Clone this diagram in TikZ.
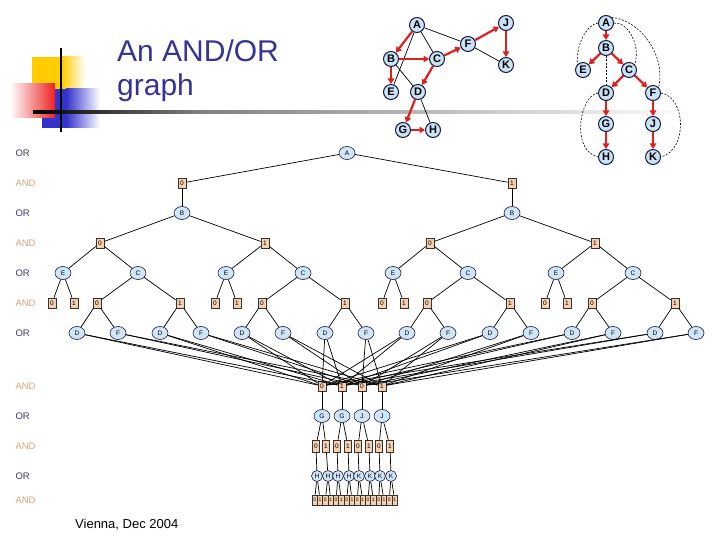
\documentclass[tikz,border=0pt]{standalone}
\usepackage{fontspec}
\setmainfont{Liberation Sans}
\usetikzlibrary{shapes.geometric,arrows.meta}
\definecolor{titleblue}{HTML}{333399}
\definecolor{orfill}{HTML}{CFE6F7}
\definecolor{andfill}{HTML}{F7CFAE}
\definecolor{orlab}{HTML}{3A3A6A}
\definecolor{andlab}{HTML}{D9A27C}
\definecolor{redarr}{HTML}{E02020}
\definecolor{gnode}{HTML}{C8E2F6}
\definecolor{navy}{HTML}{1A1A40}
\definecolor{decoyellow}{HTML}{FFCC00}
\definecolor{decored}{HTML}{EE2222}
\definecolor{decoblue}{HTML}{3333CC}
\begin{document}
\begin{tikzpicture}[x=1pt,y=-1pt,
 orn/.style={ellipse, draw=navy, line width=0.6pt, fill=orfill, minimum width=16pt, minimum height=13pt, inner sep=0pt, font=\fontsize{6.5}{6.5}\selectfont},
 andb/.style={rectangle, draw=black!80, line width=0.6pt, fill=andfill, minimum width=8pt, minimum height=10pt, inner sep=0pt, font=\fontsize{6.5}{6.5}\selectfont},
 andn/.style={andb, minimum width=6.5pt, minimum height=12pt},
 andt/.style={andb, minimum width=5.3pt, minimum height=10pt, font=\fontsize{5}{5}\selectfont},
 orsm/.style={orn, minimum width=11pt, minimum height=11pt},
 gn/.style={circle, draw=navy, line width=1pt, fill=gnode, minimum size=15pt, inner sep=0pt, font=\bfseries\fontsize{11}{11}\selectfont},
 redarrow/.style={draw=redarr, line width=2.2pt, -{Triangle[length=5.5pt,width=6.5pt]}},
 tedge/.style={draw=black, line width=0.7pt},
 dashedge/.style={draw=black, line width=0.6pt, dash pattern=on 2pt off 1.5pt},
 rowlab/.style={anchor=west, font=\fontsize{9.5}{9.5}\selectfont}
]
\useasboundingbox (0,0) rectangle (720,540);

% decoration
\fill[decoyellow] (32,57) rectangle (62,90);
\shade[left color=decoyellow, right color=white] (62,57) rectangle (85,90);
\fill[decoblue] (42,89) rectangle (66,128);
\shade[left color=decoblue, right color=white] (66,89) rectangle (100,128);
\shade[left color=white, right color=decored] (10,84) rectangle (55,118);
\shade[left color=black, right color=black!50] (33,111) rectangle (200,114);
\shade[left color=black!50, right color=white] (200,111) rectangle (690,114);
\draw[line width=2.2pt] (61,48) -- (61,132);

\node[anchor=base west, text=titleblue, font=\fontsize{30}{30}\selectfont, inner sep=0pt] (t1) at (117,62) {An AND/OR};
\node[anchor=base west, text=titleblue, font=\fontsize{30}{30}\selectfont, inner sep=0pt] (t2) at (117,96) {graph};

% first graph
\node[gn] (tA) at (417,25) {A};
\node[gn] (tB) at (391,59) {B};
\node[gn] (tC) at (437,59) {C};
\node[gn] (tE) at (391,92) {E};
\node[gn] (tD) at (418,92) {D};
\node[gn] (tF) at (468,44) {F};
\node[gn] (tJ) at (506,23) {J};
\node[gn] (tK) at (506,65) {K};
\node[gn] (tG) at (403,130) {G};
\node[gn] (tH) at (433,130) {H};
\draw[tedge] (tA) -- (tC);
\draw[tedge] (tA) -- (tF);
\draw[tedge] (tA) -- (tE);
\draw[tedge] (tB) -- (tD);
\draw[tedge] (tD) -- (tH);
\draw[tedge] (tF) -- (tK);
\draw[redarrow] (tA) -- (tB);
\draw[redarrow] (tB) -- (tC);
\draw[redarrow] (tC) -- (tF);
\draw[redarrow] (tF) -- (tJ);
\draw[redarrow] (tJ) -- (tK);
\draw[redarrow] (tB) -- (tE);
\draw[redarrow] (tC) -- (tD);
\draw[redarrow] (tD) -- (tG);
\draw[redarrow] (tG) -- (tH);

% pseudo tree
\node[gn] (pA) at (606,23) {A};
\node[gn] (pB) at (606,48) {B};
\node[gn] (pE) at (583,70) {E};
\node[gn] (pC) at (629,70) {C};
\node[gn] (pD) at (606,93) {D};
\node[gn] (pF) at (653,93) {F};
\node[gn] (pG) at (606,124) {G};
\node[gn] (pJ) at (653,124) {J};
\node[gn] (pH) at (606,157) {H};
\node[gn] (pK) at (653,157) {K};
\draw[dashedge] (pA.west) .. controls (586,25) and (576,45) .. (pE.north west);
\draw[dashedge] (pA.east) .. controls (628,22) and (641,45) .. (pC.north east);
\draw[dashedge] (pA.north east) .. controls (640,20) and (666,55) .. (pF.north east);
\draw[dashedge] (pB) -- (pD);
\draw[dashedge] (pD.west) .. controls (580,95) and (570,150) .. (pH.west);
\draw[dashedge] (pF.east) .. controls (686,97) and (688,150) .. (pK.east);
\draw[redarrow] (pA) -- (pB);
\draw[redarrow] (pB) -- (pE);
\draw[redarrow] (pB) -- (pC);
\draw[redarrow] (pC) -- (pD);
\draw[redarrow] (pC) -- (pF);
\draw[redarrow] (pD) -- (pG);
\draw[redarrow] (pG) -- (pH);
\draw[redarrow] (pF) -- (pJ);
\draw[redarrow] (pJ) -- (pK);

% row labels
\foreach \yy in {153,213,273,333,416,476}{\node[rowlab, text=orlab] at (12,\yy) {OR};}
\foreach \yy in {183,243,303,386,446,500}{\node[rowlab, text=andlab] at (12,\yy) {AND};}

% AND/OR tree
\node[orn] (A0) at (347,153) {A};
\node[andb] (a1) at (182,183) {0};
\node[andb] (a2) at (512,183) {1};
\node[orn] (B1) at (182,213) {B};
\node[orn] (B2) at (512,213) {B};
\draw[tedge] (A0) -- (a1);
\draw[tedge] (A0) -- (a2);
\draw[tedge] (a1) -- (B1);
\draw[tedge] (a2) -- (B2);

\node[andb] (m1) at (322,386) {0};
\node[andb] (m2) at (342,386) {1};
\node[andb] (m3) at (362,386) {0};
\node[andb] (m4) at (382,386) {1};

\foreach \i/\xx/\lb/\p in {1/100/0/1,2/265/1/1,3/430/0/2,4/595/1/2}{
  \node[andb] (L\i) at (\xx,243) {\lb};
  \draw[tedge] (B\p) -- (L\i);
}
\foreach \i/\ex/\cx in {1/63/138,2/226/303,3/393/468,4/556/633}{
  \node[orn] (E\i) at (\ex,273) {E};
  \node[orn] (C\i) at (\cx,273) {C};
  \draw[tedge] (L\i) -- (E\i);
  \draw[tedge] (L\i) -- (C\i);
  \node[andb] (Ea\i) at ({\ex-11},303) {0};
  \node[andb] (Eb\i) at ({\ex+11},303) {1};
  \draw[tedge] (E\i) -- (Ea\i);
  \draw[tedge] (E\i) -- (Eb\i);
  \foreach \s/\dx/\lv in {a/-41/0,b/42/1}{
    \node[andb] (C\s\i) at ({\cx+(\dx)},303) {\lv};
    \draw[tedge] (C\i) -- (C\s\i);
    \node[orn] (D\s\i) at ({\cx+(\dx)-20},333) {D};
    \node[orn] (F\s\i) at ({\cx+(\dx)+21},333) {F};
    \draw[tedge] (C\s\i) -- (D\s\i);
    \draw[tedge] (C\s\i) -- (F\s\i);
    \draw[tedge] (D\s\i) -- (m1);
    \draw[tedge] (D\s\i) -- (m2);
    \draw[tedge] (F\s\i) -- (m3);
    \draw[tedge] (F\s\i) -- (m4);
  }
}

\foreach \i/\xx/\t in {1/322/G,2/342/G,3/362/J,4/382/J}{
  \node[orn] (o\i) at (\xx,416) {\t};
  \draw[tedge] (m\i) -- (o\i);
}
\foreach \k/\xx/\lb/\p in {1/316/0/1,2/326/1/1,3/337/0/2,4/348/1/2,5/358/0/3,6/369/1/3,7/379/0/4,8/390/1/4}{
  \node[andn] (q\k) at (\xx,446) {\lb};
  \draw[tedge] (o\p) -- (q\k);
}
\foreach \k/\xx/\t in {1/317/H,2/328/H,3/338/H,4/349/H,5/359/K,6/370/K,7/380/K,8/391/K}{
  \node[orsm] (h\k) at (\xx,476) {\t};
  \draw[tedge] (q\k) -- (h\k);
}
\foreach \j in {0,...,15}{
  \pgfmathsetmacro\xx{314.7+5.33*\j}
  \pgfmathtruncatemacro\pp{floor(\j/2)+1}
  \pgfmathtruncatemacro\bb{mod(\j,2)}
  \node[andt] (z\j) at (\xx,500) {\bb};
  \draw[tedge] (h\pp) -- (z\j);
}

\node[anchor=base west, font=\fontsize{13}{13}\selectfont, inner sep=0pt] (vie) at (75,528) {Vienna, Dec 2004};
\end{tikzpicture}
\end{document}
